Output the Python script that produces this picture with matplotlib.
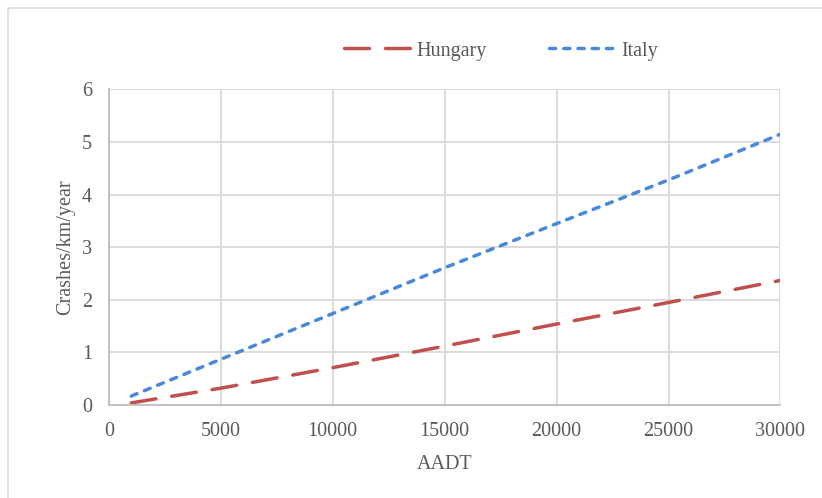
import matplotlib
matplotlib.use("Agg")
import matplotlib.pyplot as plt
from matplotlib.patches import Rectangle

# crash prediction curves, crashes per km per year against AADT
aadt = [1000, 5000, 10000, 15000, 20000, 25000, 30000]
hungary = [0.04, 0.32, 0.71, 1.12, 1.54, 1.95, 2.37]
italy = [0.17, 0.87, 1.74, 2.61, 3.45, 4.28, 5.15]

x_ticks = [0, 5000, 10000, 15000, 20000, 25000, 30000]
y_ticks = [0, 1, 2, 3, 4, 5, 6]

red = '#C0504D'
blue = '#4A89D8'
grey_text = '#595959'
fs = 14.5

plt.rcParams['font.family'] = ['Liberation Serif', 'DejaVu Serif']

fig = plt.figure(figsize=(8.22, 4.98), dpi=100)
ax = fig.add_axes([0.1324, 0.1867, 0.9495 - 0.1324, 0.8203 - 0.1867])

ax.plot(aadt, hungary, color=red, lw=2.5, dashes=(7.2, 4.6),
        dash_capstyle='round', label='Hungary')
ax.plot(aadt, italy, color=blue, lw=2.5, dashes=(1.8, 2.3),
        dash_capstyle='round', label='Italy')

ax.set_xlim(0, 30000)
ax.set_ylim(0, 6)
ax.set_xticks(x_ticks)
ax.set_yticks(y_ticks)
ax.grid(True, color='#D9D9D9', lw=1.3)
ax.set_axisbelow(True)
for side in ['top', 'right']:
    ax.spines[side].set_visible(False)
for side in ['left', 'bottom']:
    ax.spines[side].set_color('#BFBFBF')
    ax.spines[side].set_linewidth(1.3)
ax.tick_params(length=0, labelsize=fs, labelcolor=grey_text, pad=12)

ax.set_xlabel('AADT', fontsize=fs, color=grey_text, labelpad=10)
ax.set_ylabel('Crashes/km/year', fontsize=fs, color=grey_text, labelpad=5)

fig.legend(loc='center', bbox_to_anchor=(0.6095, 0.8976), ncol=2,
           frameon=False, fontsize=fs, labelcolor=grey_text,
           handlelength=3.33, handletextpad=0.27, columnspacing=3.1)

# chart area border, only the top and left edges fall inside the image
fig.patches.append(Rectangle((8 / 822, -0.1), 1.2, 1.1 - 8 / 498,
                             transform=fig.transFigure, fill=False,
                             edgecolor='#D9D9D9', lw=1.2))

fig.savefig('out.png', dpi=100)
